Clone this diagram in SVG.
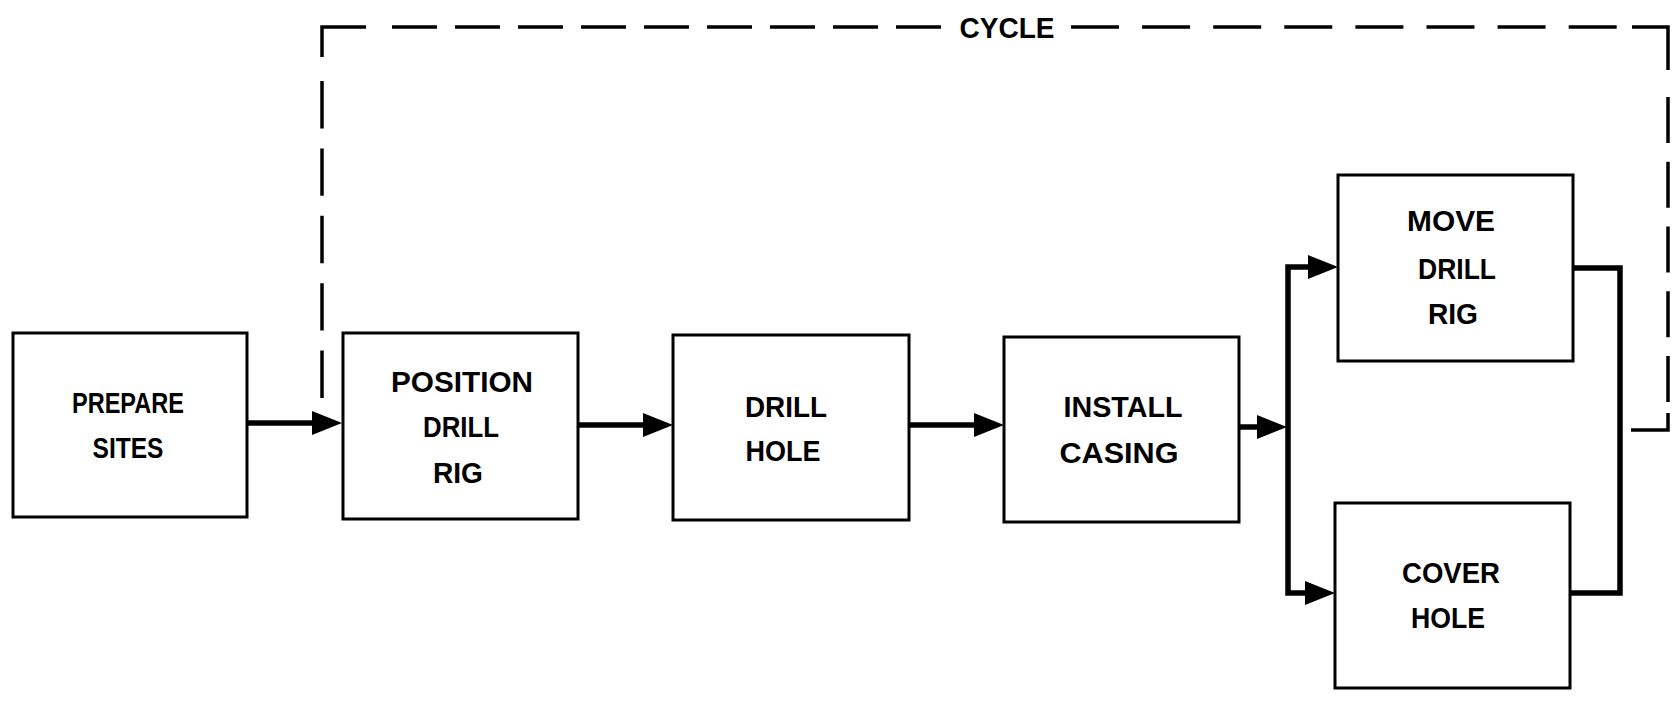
<svg xmlns="http://www.w3.org/2000/svg" xmlns:xlink="http://www.w3.org/1999/xlink" width="1674" height="704" viewBox="0 0 1674 704">
<style>
.box{fill:#fff;stroke:#000;stroke-width:3}
.lbl{font-family:"Liberation Sans",Arial,sans-serif;font-weight:bold;font-size:29px;fill:#000;text-anchor:middle}
.conn{fill:none;stroke:#000;stroke-width:5.5;stroke-linejoin:miter}
.dash{fill:none;stroke:#000;stroke-width:3.5;stroke-linecap:butt}
.ah{fill:#000}
</style>
<defs>
<path id="ah" d="M0,-12 L30,0 L0,12 Z"/>
</defs>
<rect width="1674" height="704" fill="#fff"/>

<g id="cycle-loop">
<path class="dash" d="M322,81 V398" stroke-dasharray="47.4 20"/>
<path class="dash" d="M322,57 V27 H366"/>
<path class="dash" d="M392,27 H941" stroke-dasharray="45 18"/>
<text class="lbl" x="1007" y="38" textLength="95" lengthAdjust="spacingAndGlyphs">CYCLE</text>
<path class="dash" d="M1071,27 H1617" stroke-dasharray="48 23.1"/>
<path class="dash" d="M1632,27 H1668 V70"/>
<path class="dash" d="M1668,97 V402" stroke-dasharray="46 18.75"/>
<path class="dash" d="M1668,413 V430 H1631"/>
</g>

<g id="connectors">
<path class="conn" d="M247,423 H314"/>
<use href="#ah" x="312" y="423" class="ah"/>
<path class="conn" d="M578,425 H645"/>
<use href="#ah" x="643" y="425" class="ah"/>
<path class="conn" d="M909,425 H976"/>
<use href="#ah" x="974" y="425" class="ah"/>
<path class="conn" d="M1239,427 H1259"/>
<use href="#ah" x="1257" y="427" class="ah"/>
<path class="conn" d="M1310,267 H1288 V593 H1307"/>
<use href="#ah" x="1308" y="267" class="ah"/>
<use href="#ah" x="1305" y="593" class="ah"/>
<path class="conn" d="M1573,268 H1620 V593 H1570"/>
</g>

<g id="prepare-sites">
<rect class="box" x="13" y="333" width="234" height="184"/>
<text class="lbl" x="128" y="413" textLength="112" lengthAdjust="spacingAndGlyphs">PREPARE</text>
<text class="lbl" x="128" y="458" textLength="71" lengthAdjust="spacingAndGlyphs">SITES</text>
</g>

<g id="position-drill-rig">
<rect class="box" x="343" y="333" width="235" height="186"/>
<text class="lbl" x="462" y="392" textLength="142" lengthAdjust="spacingAndGlyphs">POSITION</text>
<text class="lbl" x="461" y="437" textLength="76" lengthAdjust="spacingAndGlyphs">DRILL</text>
<text class="lbl" x="458" y="483" textLength="50" lengthAdjust="spacingAndGlyphs">RIG</text>
</g>

<g id="drill-hole">
<rect class="box" x="673" y="335" width="236" height="185"/>
<text class="lbl" x="786" y="417" textLength="82" lengthAdjust="spacingAndGlyphs">DRILL</text>
<text class="lbl" x="783" y="461" textLength="75" lengthAdjust="spacingAndGlyphs">HOLE</text>
</g>

<g id="install-casing">
<rect class="box" x="1004" y="337" width="235" height="185"/>
<text class="lbl" x="1123" y="417" textLength="119" lengthAdjust="spacingAndGlyphs">INSTALL</text>
<text class="lbl" x="1119" y="463" textLength="119" lengthAdjust="spacingAndGlyphs">CASING</text>
</g>

<g id="move-drill-rig">
<rect class="box" x="1338" y="175" width="235" height="186"/>
<text class="lbl" x="1451" y="231" textLength="88" lengthAdjust="spacingAndGlyphs">MOVE</text>
<text class="lbl" x="1457" y="279" textLength="78" lengthAdjust="spacingAndGlyphs">DRILL</text>
<text class="lbl" x="1453" y="324" textLength="50" lengthAdjust="spacingAndGlyphs">RIG</text>
</g>

<g id="cover-hole">
<rect class="box" x="1335" y="503" width="235" height="185"/>
<text class="lbl" x="1451" y="583" textLength="98" lengthAdjust="spacingAndGlyphs">COVER</text>
<text class="lbl" x="1448" y="628" textLength="74" lengthAdjust="spacingAndGlyphs">HOLE</text>
</g>
</svg>
